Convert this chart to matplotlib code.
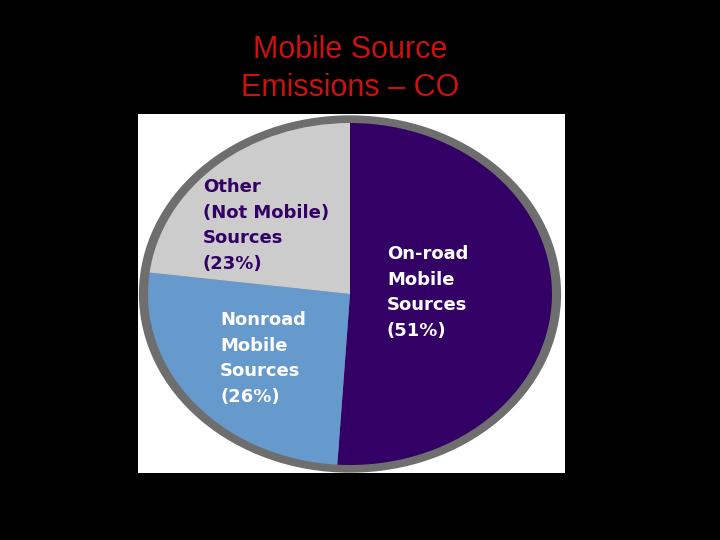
import matplotlib
matplotlib.use("Agg")
import matplotlib.pyplot as plt
from matplotlib.patches import Circle, Rectangle

# slice data, clockwise from 12 o'clock
sources = ["On-road\nMobile\nSources", "Nonroad\nMobile\nSources", "Other\n(Not Mobile)\nSources"]
shares = [51, 26, 23]
slice_colors = ["#330066", "#6699CC", "#CCCCCC"]
label_colors = ["white", "white", "#330066"]
# label anchors (left, top) in pixels of the 720x540 picture
label_pos = [(387, 245), (220, 311), (203, 178)]

W, H = 720, 540
fig = plt.figure(figsize=(7.2, 5.4), dpi=100, facecolor="black")

# white panel behind the pie
fig.patches.append(Rectangle((138 / W, 1 - 473 / H), 427 / W, 359 / H,
                             transform=fig.transFigure, facecolor="white",
                             edgecolor="none", zorder=-1))

# axes sized so the unit pie becomes the ellipse in the picture
cx, cy, rx, ry = 350, 294, 202, 171
lim = 1.1
ax = fig.add_axes([(cx - lim * rx) / W, 1 - (cy + lim * ry) / H,
                   2 * lim * rx / W, 2 * lim * ry / H])
ax.patch.set_alpha(0)
ax.add_patch(Circle((0, 0), 1.045, facecolor="#6E6E6E", edgecolor="none", zorder=0))
ax.pie(shares, colors=slice_colors, startangle=90, counterclock=False,
       wedgeprops={"linewidth": 0})
ax.set_aspect("auto")
ax.set_xlim(-lim, lim)
ax.set_ylim(-lim, lim)
ax.axis("off")

for name, share, col, (px, py) in zip(sources, shares, label_colors, label_pos):
    fig.text(px / W, 1 - py / H, f"{name}\n({share}%)", color=col,
             fontsize=13, fontweight="bold", family="DejaVu Sans",
             ha="left", va="top", linespacing=1.55)

fig.text(350 / W, 1 - 35 / H, "Mobile Source\nEmissions \u2013 CO", color="#CC1111",
         fontsize=22, family="Liberation Sans", ha="center", va="top",
         linespacing=1.36)

fig.savefig("out.png", dpi=100, facecolor="black")
